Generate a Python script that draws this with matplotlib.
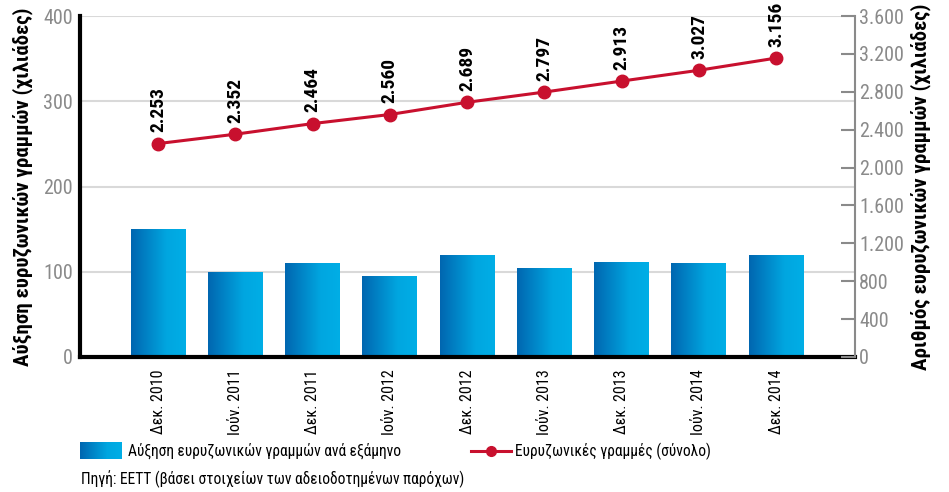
import numpy as np
import matplotlib
matplotlib.use('Agg')
import matplotlib.pyplot as plt
from matplotlib.colors import LinearSegmentedColormap
from matplotlib.lines import Line2D
from matplotlib import font_manager

# δεδομένα
periods = ['Δεκ. 2010', 'Ιούν. 2011', 'Δεκ. 2011', 'Ιούν. 2012', 'Δεκ. 2012',
           'Ιούν. 2013', 'Δεκ. 2013', 'Ιούν. 2014', 'Δεκ. 2014']
growth = [150, 100, 110, 95, 120, 104, 112, 110, 120]
total = [2253, 2352, 2464, 2560, 2689, 2797, 2913, 3027, 3156]

# στενή γραμματοσειρά αν υπάρχει
names = {f.name for f in font_manager.fontManager.ttflist}
fams = [n for n in ['Liberation Sans Narrow', 'Roboto Condensed', 'Open Sans Condensed']
        if n in names] + ['DejaVu Sans']
plt.rcParams['font.family'] = fams
plt.rcParams['font.stretch'] = 'condensed'

W, H = 949, 492
fig = plt.figure(figsize=(W / 100, H / 100), dpi=100)
ax = fig.add_axes([80 / W, 1 - 357 / H, 775 / W, 341 / H])

grey = '#8a8a8a'
red = '#c8102e'
blue_cmap = LinearSegmentedColormap.from_list(
    'bl', [(0, '#0066b0'), (0.65, '#00a6e0'), (1, '#00aee6')])
grad = np.linspace(0, 1, 256).reshape(1, -1)

x = np.arange(len(periods))
bw = 0.71
bars = ax.bar(x, growth, width=bw, color='none', edgecolor='none', zorder=2)
for b in bars:
    im = ax.imshow(grad, cmap=blue_cmap, aspect='auto', zorder=2,
                   extent=[b.get_x(), b.get_x() + b.get_width(), 0, b.get_height()])
    im.set_clip_path(b)

ax.set_xlim(-1.01, 9.02)
ax.set_ylim(0, 400)
ax.set_yticks([0, 100, 200, 300, 400])
ax.grid(axis='y', color='#d9d9d9', linewidth=1.5, zorder=0)
ax.set_axisbelow(True)
ax.set_xticks(x)
ax.set_xticklabels(periods, rotation=90, fontsize=11.5)
ax.tick_params(axis='x', length=0, pad=9)
ax.tick_params(axis='y', length=0, pad=5, labelsize=14.5, labelcolor=grey)
for s in ['top', 'right']:
    ax.spines[s].set_visible(False)
ax.spines['left'].set_linewidth(3)
ax.spines['bottom'].set_linewidth(3)
ax.set_ylabel('Αύξηση ευρυζωνικών γραμμών (χιλιάδες)', fontsize=15, fontweight='bold')
ax.yaxis.set_label_coords(-47 / 775, 0.5)

ax2 = ax.twinx()
ax2.plot(x, total, color=red, linewidth=2.2, marker='o', markersize=9, zorder=5)
ax2.set_ylim(0, 3600)
ax2.set_yticks(np.arange(0, 3601, 400))
ax2.set_yticklabels([f'{v:,}'.replace(',', '.') for v in range(0, 3601, 400)])
ax2.tick_params(axis='y', direction='in', length=10, width=1.5, color=grey,
                labelcolor=grey, labelsize=14.5, pad=3)
for s in ['top', 'left', 'bottom']:
    ax2.spines[s].set_visible(False)
ax2.spines['right'].set_color(grey)
ax2.spines['right'].set_linewidth(1.5)
ax2.set_ylabel('Αριθμός ευρυζωνικών γραμμών (χιλιάδες)', fontsize=15, fontweight='bold')
ax2.yaxis.set_label_coords(1 + 55 / 775, 0.5)
for xi, v in zip(x, total):
    ax2.annotate(f'{v:,}'.replace(',', '.'), (xi, v), xytext=(0, 8),
                 textcoords='offset points', rotation=90, ha='center', va='bottom',
                 fontsize=14, fontweight='bold')

# υπόμνημα
sw = fig.add_axes([80 / W, 1 - 459 / H, 42 / W, 17 / H])
sw.imshow(grad, cmap=blue_cmap, aspect='auto')
sw.axis('off')
fig.text(128 / W, 1 - 451 / H, 'Αύξηση ευρυζωνικών γραμμών ανά εξάμηνο',
         fontsize=11.2, va='center')
fig.add_artist(Line2D([471 / W, 511 / W], [1 - 451 / H, 1 - 451 / H], color=red,
                      linewidth=2.2))
fig.add_artist(Line2D([491 / W], [1 - 451 / H], color=red, marker='o', markersize=7))
fig.text(515 / W, 1 - 451 / H, 'Ευρυζωνικές γραμμές (σύνολο)', fontsize=11.2, va='center')
fig.text(81 / W, 1 - 479 / H, 'Πηγή: ΕΕΤΤ (βάσει στοιχείων των αδειοδοτημένων παρόχων)',
         fontsize=11.2, va='center')

fig.savefig('out.png', dpi=100)
